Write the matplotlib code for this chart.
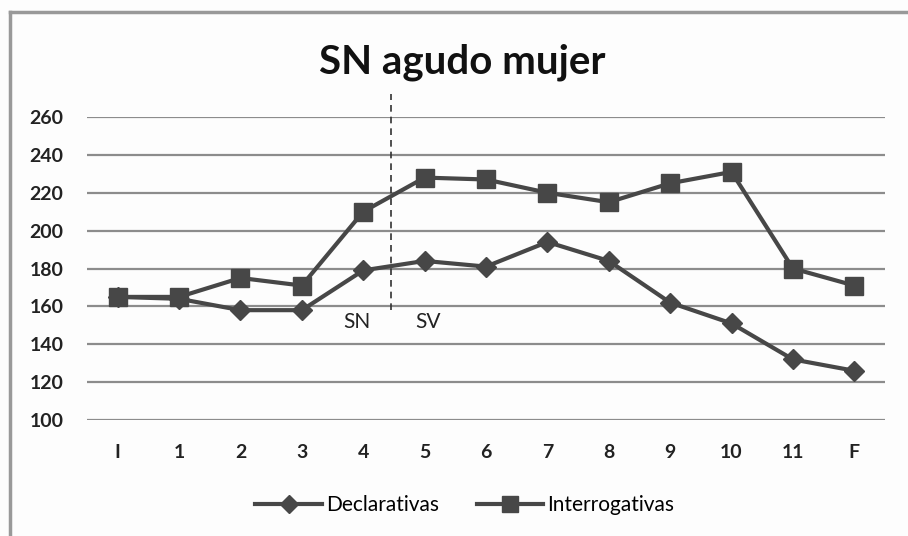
import numpy as np
import matplotlib as mpl
import matplotlib.pyplot as plt
from matplotlib.lines import Line2D

mpl.rcParams['font.family'] = ['Lato', 'DejaVu Sans']

categories = ['I', '1', '2', '3', '4', '5', '6', '7', '8', '9', '10', '11', 'F']
declarativas = [165, 164, 158, 158, 179, 184, 181, 194, 184, 162, 151, 132, 126]
interrogativas = [165, 165, 175, 171, 210, 228, 227, 220, 215, 225, 231, 180, 171]
yticks = [100, 120, 140, 160, 180, 200, 220, 240, 260]

line_col = '#474747'
grid_col = '#8c8c8c'

fig = plt.figure(figsize=(9.08, 5.36), dpi=100)
fig.patch.set_facecolor('#fdfdfd')
ax = fig.add_axes([87 / 908, 1 - 420 / 536, 798 / 908, 303 / 536])
ax.set_facecolor('#fdfdfd')

x = np.arange(len(categories))
ax.plot(x, declarativas, color=line_col, lw=3, marker='D', ms=10, label='Declarativas')
ax.plot(x, interrogativas, color=line_col, lw=3, marker='s', ms=12.5, label='Interrogativas')

ax.set_xlim(-0.5, len(categories) - 0.5)
ax.set_ylim(100, 260)
ax.set_yticks(yticks)
ax.set_xticks(x)
ax.set_xticklabels(categories)
ax.tick_params(length=0, labelsize=14, colors='#222222')
ax.tick_params(axis='x', pad=17)
ax.tick_params(axis='y', pad=17)
for t in ax.get_xticklabels() + ax.get_yticklabels():
    t.set_fontweight('bold')
ax.grid(axis='y', color=grid_col, lw=1.6)
ax.set_axisbelow(True)
for s in ax.spines.values():
    s.set_visible(False)

# SN / SV boundary
ax.plot([4.45, 4.45], [158, 272], color='#333333', lw=1.2, ls=(0, (4, 3)), clip_on=False)
ax.text(3.89, 151.5, 'SN', ha='center', va='center', fontsize=15, color='#222222')
ax.text(5.05, 151.5, 'SV', ha='center', va='center', fontsize=15, color='#222222')

fig.text(462 / 908, 1 - 62 / 536, 'SN agudo mujer', ha='center', va='center',
         fontsize=29, fontweight='bold', color='#111111')

handles = [Line2D([], [], color=line_col, lw=3, marker='D', ms=9),
           Line2D([], [], color=line_col, lw=3, marker='s', ms=12)]
fig.legend(handles, ['Declarativas', 'Interrogativas'], loc='center',
           bbox_to_anchor=(465 / 908, 1 - 505 / 536), ncol=2, frameon=False,
           fontsize=15, handlelength=3.2, columnspacing=1.8, handletextpad=0.2)

# outer chart frame (left and top edges visible)
fig.add_artist(Line2D([10 / 908, 10 / 908], [0, 1 - 12 / 536], color='#999999', lw=2.5,
                      transform=fig.transFigure))
fig.add_artist(Line2D([10 / 908, 1], [1 - 12 / 536, 1 - 12 / 536], color='#999999', lw=2.5,
                      transform=fig.transFigure))

fig.savefig('out.png', dpi=100, facecolor=fig.get_facecolor())
